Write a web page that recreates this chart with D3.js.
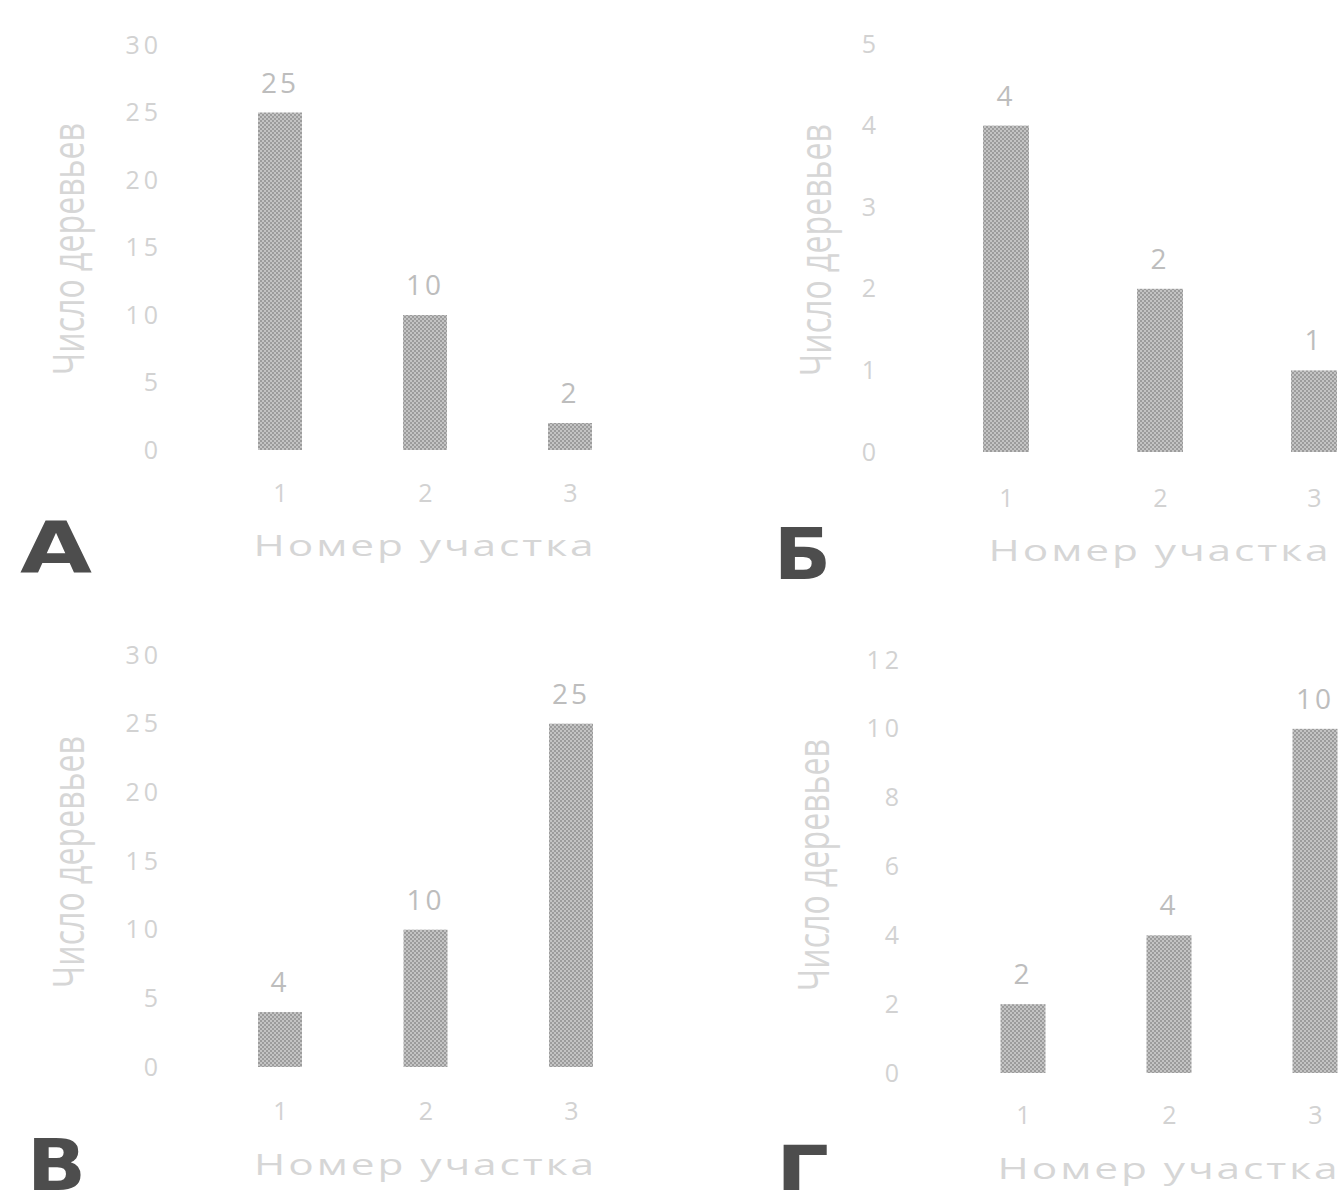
<!DOCTYPE html>
<html>
<head>
<meta charset="utf-8">
<script src="https://cdn.jsdelivr.net/npm/d3@7"></script>
<style>
  body { margin: 0; background: #fff; }
  svg { display: block; }
</style>
</head>
<body>
<div class="board"></div>
<script>
var width = 1340,
    height = 1190;

// data
const panelLetters = ["А", "Б", "В", "Г"]
const categories = ["1", "2", "3"]
const valuesA = [25, 10, 2]
const valuesB = [4, 2, 1]
const valuesV = [4, 10, 25]
const valuesG = [2, 4, 10]
const ticksA = [0, 5, 10, 15, 20, 25, 30]
const ticksB = [0, 1, 2, 3, 4, 5]
const ticksV = [0, 5, 10, 15, 20, 25, 30]
const ticksG = [0, 2, 4, 6, 8, 10, 12]
const xTitle = "Номер участка"
const yTitle = "Число деревьев"

const seriesList = [valuesA, valuesB, valuesV, valuesG]
const tickList = [ticksA, ticksB, ticksV, ticksG]

// where each panel sits on the page
const layout = [
    { x0: 280, x1: 570, y0: 450, y1: 45, tickX: 162, catY: 484, titleY: 556, yTitleX: 84, yTitleY: 249, barW: 44, lx: 20, ly: 572, lw: 72 },
    { x0: 1006, x1: 1314, y0: 452, y1: 44, tickX: 880, catY: 489, titleY: 561, yTitleX: 831, yTitleY: 250, barW: 46, lx: 774, ly: 579, lw: 57 },
    { x0: 280, x1: 571, y0: 1067, y1: 655, tickX: 162, catY: 1102, titleY: 1175, yTitleX: 84, yTitleY: 862, barW: 44, lx: 27, ly: 1190, lw: 59 },
    { x0: 1023, x1: 1315, y0: 1073, y1: 660, tickX: 903, catY: 1106, titleY: 1179, yTitleX: 829, yTitleY: 865, barW: 45, lx: 776, ly: 1197, lw: 53 }
]

const TICK_COLOR = "#d2d2d2"
const TITLE_COLOR = "#d6d6d6"
const VALUE_COLOR = "#bdbdbd"
const LETTER_COLOR = "#4d4d4d"
const FONT = "'Open Sans', 'DejaVu Sans', sans-serif"

var svg = d3.select(".board")
    .append("svg")
    .attr("width", width)
    .attr("height", height)

// halftone-ish fill for the bars
let pat = svg.append("defs").append("pattern")
    .attr("id", "dots")
    .attr("width", 4)
    .attr("height", 4)
    .attr("patternUnits", "userSpaceOnUse")
pat.append("rect").attr("width", 4).attr("height", 4).attr("fill", "#c4c4c4")
pat.append("rect").attr("width", 2).attr("height", 2).attr("fill", "#9c9c9c")
pat.append("rect").attr("x", 2).attr("y", 2).attr("width", 2).attr("height", 2).attr("fill", "#9c9c9c")

function drawPanel(i) {
    let L = layout[i]
    let values = seriesList[i]
    let ticks = tickList[i]
    let g = svg.append("g")

    let x = d3.scalePoint()
        .domain(categories)
        .range([L.x0, L.x1])

    let y = d3.scaleLinear()
        .domain([0, d3.max(ticks)])
        .range([L.y0, L.y1])

    // y ticks
    let yAxis = g.append("g")
        .attr("transform", `translate(${L.tickX}, 0)`)
        .call(d3.axisLeft(y).tickValues(ticks).tickFormat(d3.format("d")).tickSize(0).tickPadding(0))
    yAxis.select(".domain").remove()
    yAxis.selectAll("text")
        .attr("fill", TICK_COLOR)
        .style("font-family", FONT)
        .style("font-size", "25px")
        .style("letter-spacing", "4px")

    // x ticks
    let xAxis = g.append("g")
        .attr("transform", `translate(0, ${L.catY})`)
        .call(d3.axisBottom(x).tickSize(0).tickPadding(0))
    xAxis.select(".domain").remove()
    xAxis.selectAll("text")
        .attr("fill", TICK_COLOR)
        .style("font-family", FONT)
        .style("font-size", "25px")

    g.selectAll(".bar")
        .data(values)
        .enter()
        .append("rect")
        .classed("bar", true)
        .attr("x", (d, j) => x(categories[j]) - L.barW / 2)
        .attr("y", d => y(d))
        .attr("width", L.barW)
        .attr("height", d => y(0) - y(d))
        .attr("fill", "url(#dots)")

    g.selectAll(".value")
        .data(values)
        .enter()
        .append("text")
        .classed("value", true)
        .text(d => d)
        .attr("x", (d, j) => x(categories[j]))
        .attr("y", d => y(d) - 20)
        .attr("text-anchor", "middle")
        .attr("fill", VALUE_COLOR)
        .style("font-family", FONT)
        .style("font-size", "28px")
        .style("letter-spacing", "3px")

    // axis titles
    g.append("text")
        .text(xTitle)
        .attr("x", (L.x0 + L.x1) / 2)
        .attr("y", L.titleY)
        .attr("text-anchor", "middle")
        .attr("textLength", 343)
        .attr("lengthAdjust", "spacingAndGlyphs")
        .attr("fill", TITLE_COLOR)
        .style("font-family", FONT)
        .style("font-size", "29px")
        .style("letter-spacing", "2px")

    g.append("text")
        .text(yTitle)
        .attr("transform", `translate(${L.yTitleX}, ${L.yTitleY}) rotate(-90)`)
        .attr("text-anchor", "middle")
        .attr("textLength", 252)
        .attr("lengthAdjust", "spacingAndGlyphs")
        .attr("fill", TITLE_COLOR)
        .style("font-family", FONT)
        .style("font-size", "44px")

    // panel letter
    g.append("text")
        .text(panelLetters[i])
        .attr("x", L.lx)
        .attr("y", L.ly)
        .attr("textLength", L.lw)
        .attr("lengthAdjust", "spacingAndGlyphs")
        .attr("fill", LETTER_COLOR)
        .style("font-family", "'DejaVu Sans', sans-serif")
        .style("font-weight", "bold")
        .style("font-size", "71px")
}

panelLetters.forEach((d, i) => drawPanel(i))
</script>
</body>
</html>
